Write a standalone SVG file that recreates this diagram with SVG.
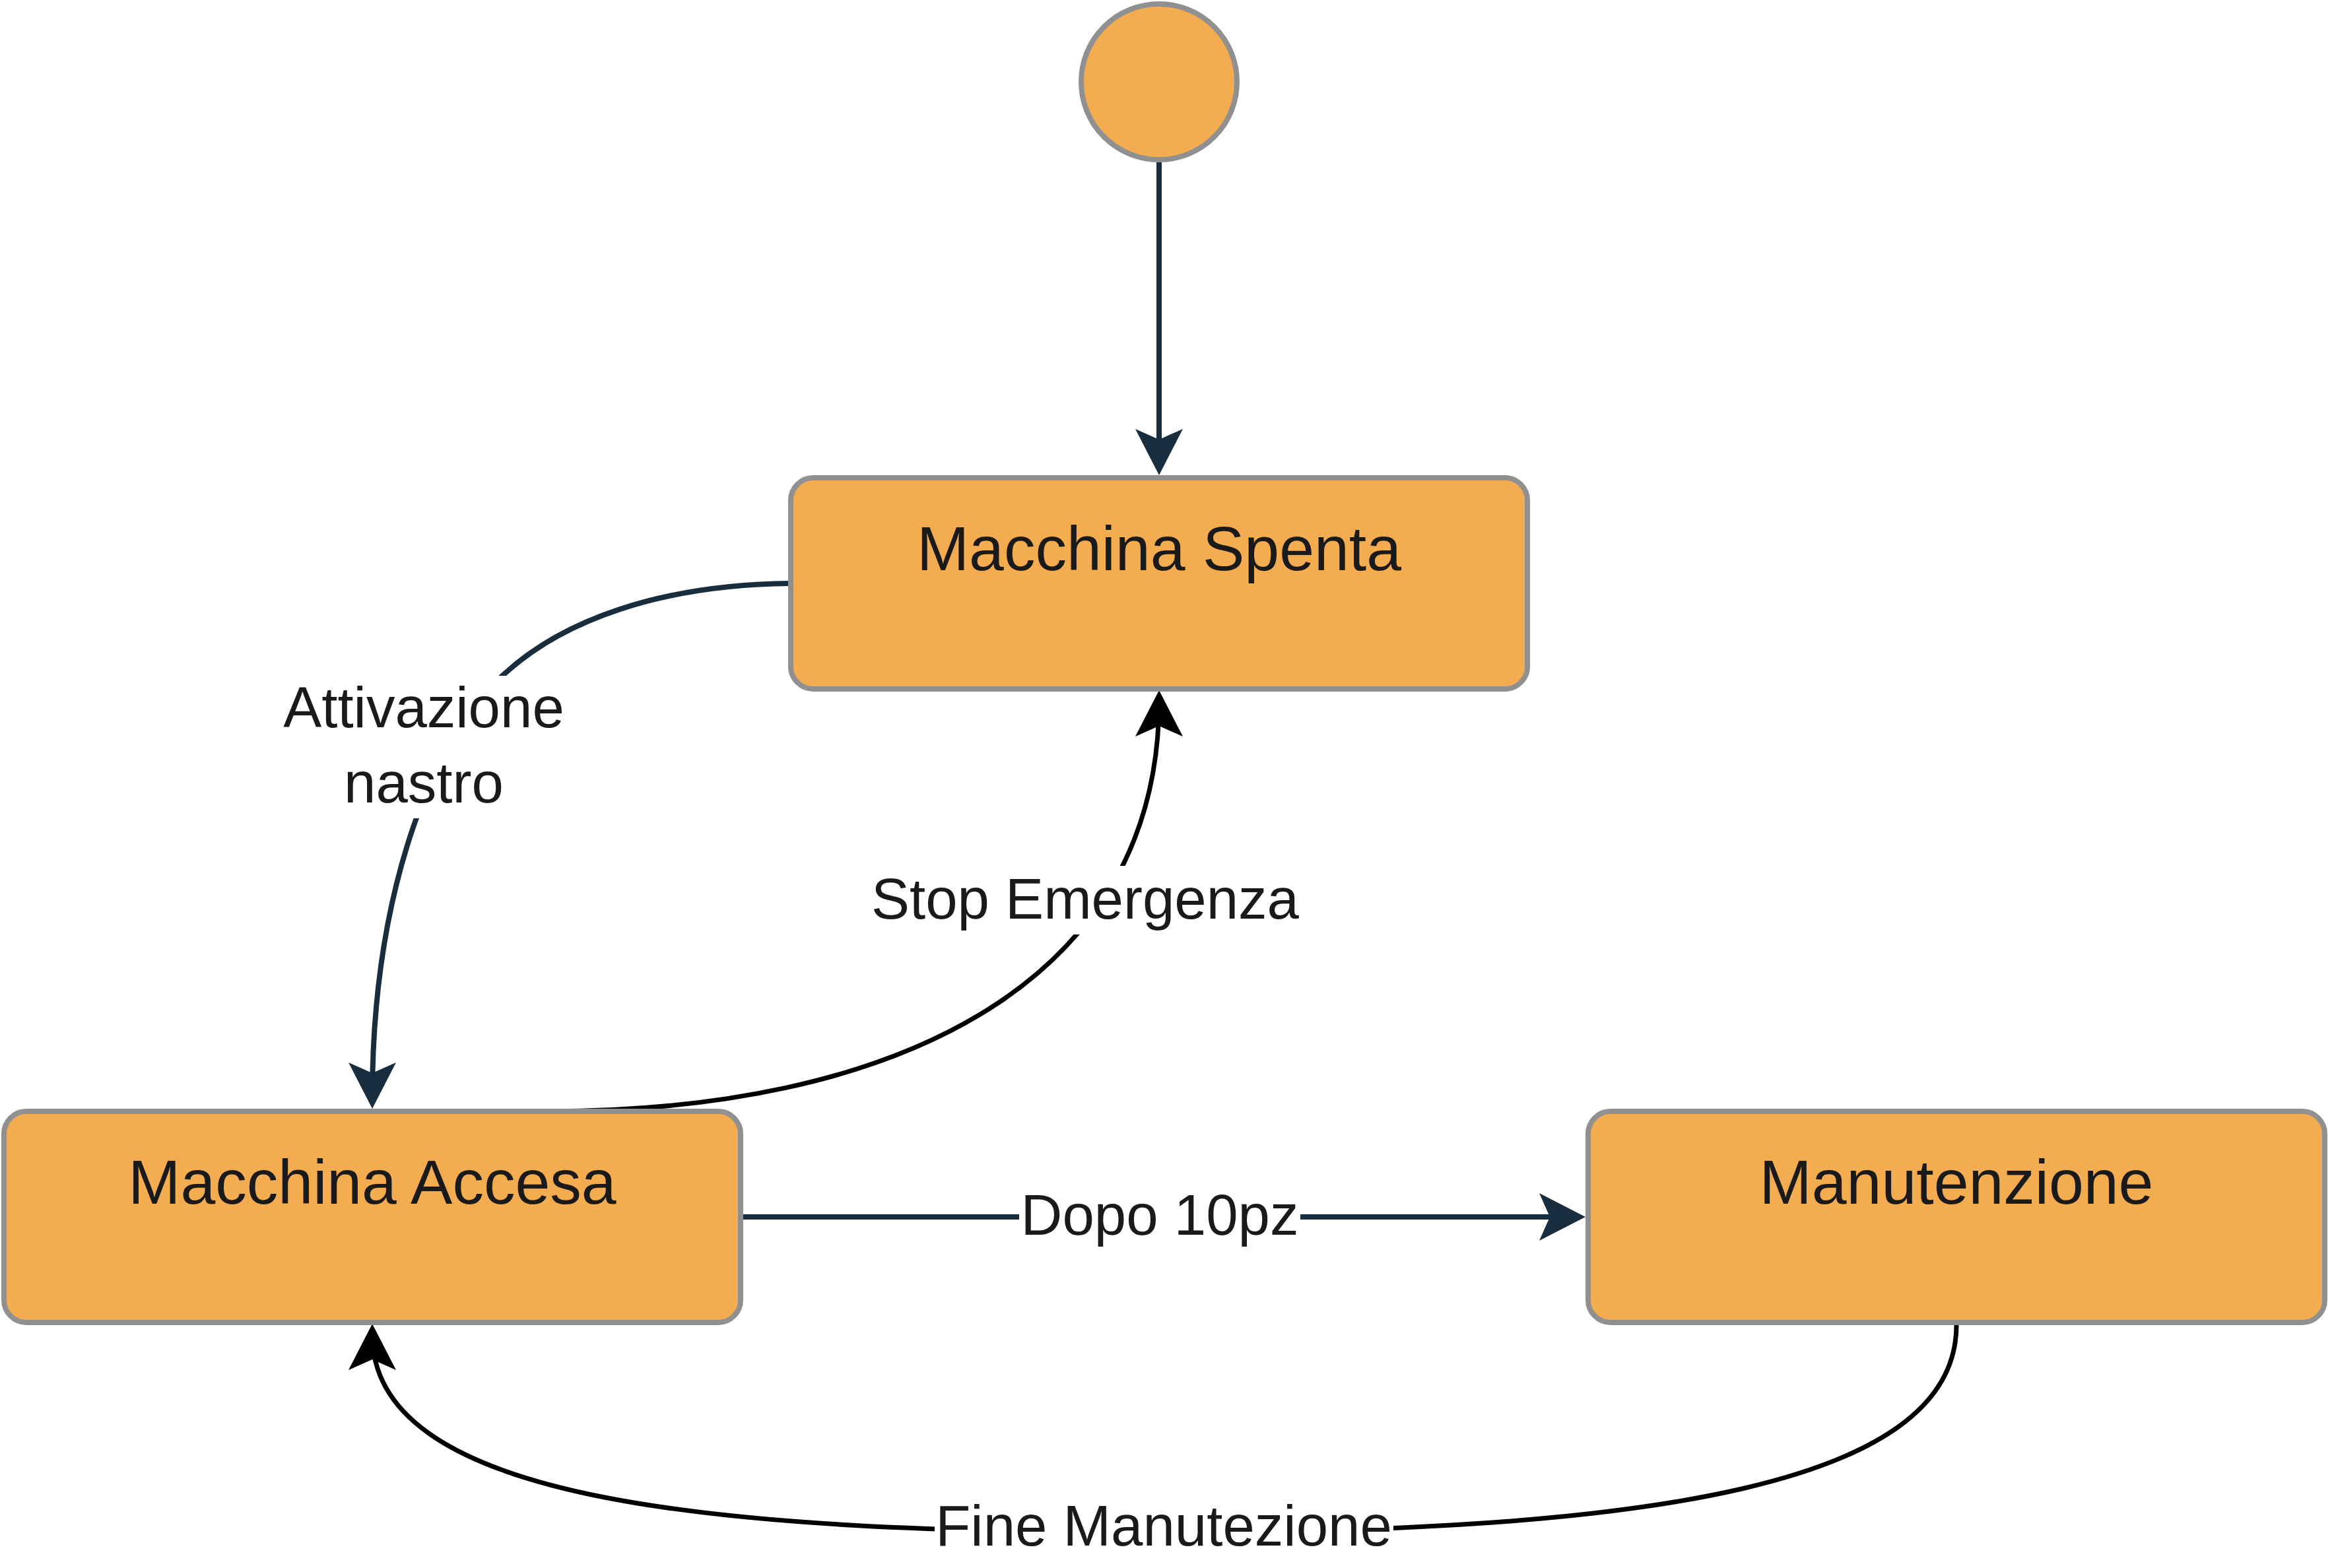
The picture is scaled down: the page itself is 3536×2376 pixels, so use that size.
<svg xmlns="http://www.w3.org/2000/svg" width="3536" height="2376" viewBox="0 0 3536 2376">
<style>
.node{fill:#F4AC50;stroke:#909090;stroke-width:8}
.ntext{font-family:"Liberation Sans",Arial,sans-serif;font-size:95px;fill:#1A1A1A;text-anchor:middle}
.etext{font-family:"Liberation Sans",Arial,sans-serif;font-size:87px;fill:#1A1A1A;text-anchor:middle}
.navy{fill:none;stroke:#182E3E;stroke-width:8}
.black{fill:none;stroke:#000000;stroke-width:7}
.lblbg{fill:#FFFFFF}
</style>
<defs>
<marker id="arrNavy" markerUnits="userSpaceOnUse" viewBox="-80 -50 100 100" markerWidth="100" markerHeight="100" refX="0" refY="0" orient="auto" overflow="visible">
<path d="M16,0 L-54,-36 L-38,0 L-54,36 Z" fill="#182E3E"/>
</marker>
<marker id="arrBlack" markerUnits="userSpaceOnUse" viewBox="-80 -50 100 100" markerWidth="100" markerHeight="100" refX="0" refY="0" orient="auto" overflow="visible">
<path d="M16,0 L-54,-36 L-38,0 L-54,36 Z" fill="#000000"/>
</marker>
</defs>
<rect width="3536" height="2376" fill="#FFFFFF"/>
<g id="connectors">
<path id="e-start" class="navy" d="M1756,246 L1756,704" marker-end="url(#arrNavy)"/>
<path id="e-attivazione" class="navy" d="M1198,884 C1000,886 850,940 760,1025 C640,1140 564,1380 564,1664" marker-end="url(#arrNavy)"/>
<path id="e-stop" class="black" d="M830,1684 C1341,1684 1756,1500 1756,1062" marker-end="url(#arrBlack)"/>
<path id="e-dopo" class="navy" d="M1126,1844 L2386,1844" marker-end="url(#arrNavy)"/>
<path id="e-fine" class="black" d="M2964,2008 C2964,2250 2500,2322 1763,2322 C1100,2322 564,2280 564,2022" marker-end="url(#arrBlack)"/>
<g id="edge-labels">
<rect class="lblbg" x="425" y="1024" width="436" height="216"/>
<text class="etext" x="642" y="1102">Attivazione</text>
<text class="etext" x="642" y="1216">nastro</text>
<rect class="lblbg" x="1318" y="1312" width="652" height="104"/>
<text class="etext" x="1644" y="1392">Stop Emergenza</text>
<rect class="lblbg" x="1544" y="1792" width="426" height="104"/>
<text class="etext" x="1757" y="1871">Dopo 10pz</text>
<rect class="lblbg" x="1416" y="2266" width="695" height="104"/>
<text class="etext" x="1763" y="2342">Fine Manutezione</text>
</g>
</g>
<g id="start">
<circle cx="1756" cy="124" r="118" fill="#F4AC50" stroke="#909090" stroke-width="8"/>
</g>
<g id="macchina-spenta">
<rect class="node" x="1198" y="724" width="1116" height="320" rx="34" ry="34"/>
<text class="ntext" x="1756" y="864">Macchina Spenta</text>
</g>
<g id="macchina-accesa">
<rect class="node" x="6" y="1684" width="1116" height="320" rx="34" ry="34"/>
<text class="ntext" x="564" y="1824">Macchina Accesa</text>
</g>
<g id="manutenzione">
<rect class="node" x="2406" y="1684" width="1116" height="320" rx="34" ry="34"/>
<text class="ntext" x="2964" y="1824">Manutenzione</text>
</g>
</svg>
